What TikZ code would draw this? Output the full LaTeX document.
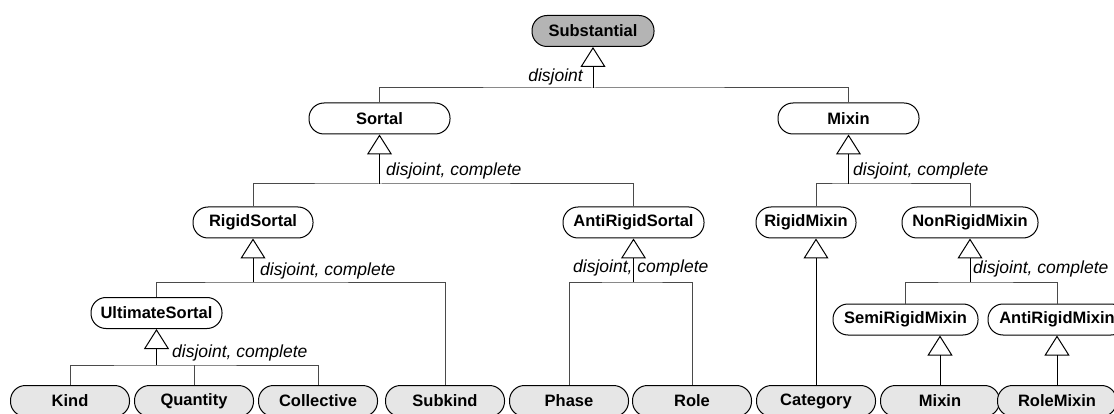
\documentclass[tikz,border=0pt]{standalone}
\usepackage{fontspec}
\setmainfont{Liberation Sans}
\usetikzlibrary{arrows.meta}
\definecolor{leafgray}{HTML}{E6E6E6}
\definecolor{rootgray}{HTML}{B4B4B4}
\definecolor{bargray}{HTML}{4A4A4A}

\begin{document}
\begin{tikzpicture}[x=1pt, y=-1pt,
    cls/.style={draw, line width=1pt, fill=white, rounded corners=15pt,
                minimum height=31pt, inner sep=0pt,
                font=\fontsize{16.5}{18}\selectfont\bfseries},
    leaf/.style={cls, fill=leafgray, minimum width=119pt},
    root/.style={cls, fill=rootgray},
    gset/.style={font=\fontsize{17.5}{20}\selectfont\itshape, inner sep=0pt},
    gen/.style={line width=1pt, -{Triangle[open, length=20pt, width=25pt]}},
    bar/.style={draw=bargray, line width=1pt}
  ]
  \clip (0,0) rectangle (1114,414);

  % classes
  \node[root, minimum width=122pt] (substantial)     at (593,31)      {Substantial};
  \node[cls, minimum width=141pt]  (sortal)          at (379.5,118.5) {Sortal};
  \node[cls, minimum width=141pt]  (mixin)           at (848.5,118.5) {Mixin};
  \node[cls, minimum width=120pt]  (rigidsortal)     at (253,222.5)   {RigidSortal};
  \node[cls, minimum width=141pt]  (antirigidsortal) at (633.5,222.5) {AntiRigidSortal};
  \node[cls, minimum width=100pt]  (rigidmixin)      at (806,222.5)   {RigidMixin};
  \node[cls, minimum width=136pt]  (nonrigidmixin)   at (970,222.5)   {NonRigidMixin};
  \node[cls, minimum width=131pt]  (ultimatesortal)  at (156.5,313)   {UltimateSortal};
  \node[cls, minimum width=145pt]  (semirigidmixin)  at (905.5,319.5) {SemiRigidMixin};
  \node[cls, minimum width=138pt]  (antirigidmixin)  at (1057,319.5)  {AntiRigidMixin};

  % leaves
  \node[leaf] (kind)       at (70,401)   {Kind};
  \node[leaf] (quantity)   at (194,401)  {Quantity};
  \node[leaf] (collective) at (318,401)  {Collective};
  \node[leaf] (subkind)    at (445,401)  {Subkind};
  \node[leaf] (phase)      at (569,401)  {Phase};
  \node[leaf] (role)       at (692,401)  {Role};
  \node[leaf] (category)   at (816,401)  {Category};
  \node[leaf] (mixinleaf)  at (940,401)  {Mixin};
  \node[leaf] (rolemixin)  at (1057,401) {RoleMixin};

  % generalization sets
  \coordinate (g0) at (593,88);
  \draw[bar] (sortal.north) |- (g0) -| (mixin.north);
  \draw[gen] (g0) -- (substantial.south);
  \node[gset, anchor=east] (g0lbl) at (583,77) {disjoint};

  \coordinate (g1) at (379.5,184);
  \draw[bar] (rigidsortal.north) |- (g1) -| (antirigidsortal.north);
  \draw[gen] (g1) -- (sortal.south);
  \node[gset, anchor=west] (g1lbl) at (386,171) {disjoint, complete};

  \coordinate (g2) at (848.5,184);
  \draw[bar] (category |- rigidmixin.north) |- (g2) -| (nonrigidmixin.north);
  \draw[gen] (g2) -- (mixin.south);
  \node[gset, anchor=west] (g2lbl) at (853,171) {disjoint, complete};

  \coordinate (g3) at (253,282);
  \draw[bar] (ultimatesortal.north) |- (g3) -| (subkind.north);
  \draw[gen] (g3) -- (rigidsortal.south);
  \node[gset, anchor=west] (g3lbl) at (260,271) {disjoint, complete};

  \coordinate (g4) at (633.5,282);
  \draw[bar] (phase.north) |- (g4) -| (role.north);
  \draw[gen] (g4) -- (antirigidsortal.south);
  \node[gset, anchor=west] (g4lbl) at (573,268) {disjoint, complete};

  \coordinate (g5) at (970,282);
  \draw[bar] (semirigidmixin.north) |- (g5) -| (antirigidmixin.north);
  \draw[gen] (g5) -- (nonrigidmixin.south);
  \node[gset, anchor=west] (g5lbl) at (973,269) {disjoint, complete};

  \coordinate (g6) at (156.5,365);
  \draw[bar] (kind.north) |- (g6) -| (collective.north);
  \draw[bar] (quantity.north) -- (quantity.north |- g6);
  \draw[gen] (g6) -- (ultimatesortal.south);
  \node[gset, anchor=west] (g6lbl) at (172,353) {disjoint, complete};

  % single generalizations
  \draw[gen] (category.north) -- (category.north |- rigidmixin.south);
  \draw[gen] (mixinleaf.north) -- (mixinleaf.north |- semirigidmixin.south);
  \draw[gen] (rolemixin.north) -- (rolemixin.north |- antirigidmixin.south);
\end{tikzpicture}
\end{document}
